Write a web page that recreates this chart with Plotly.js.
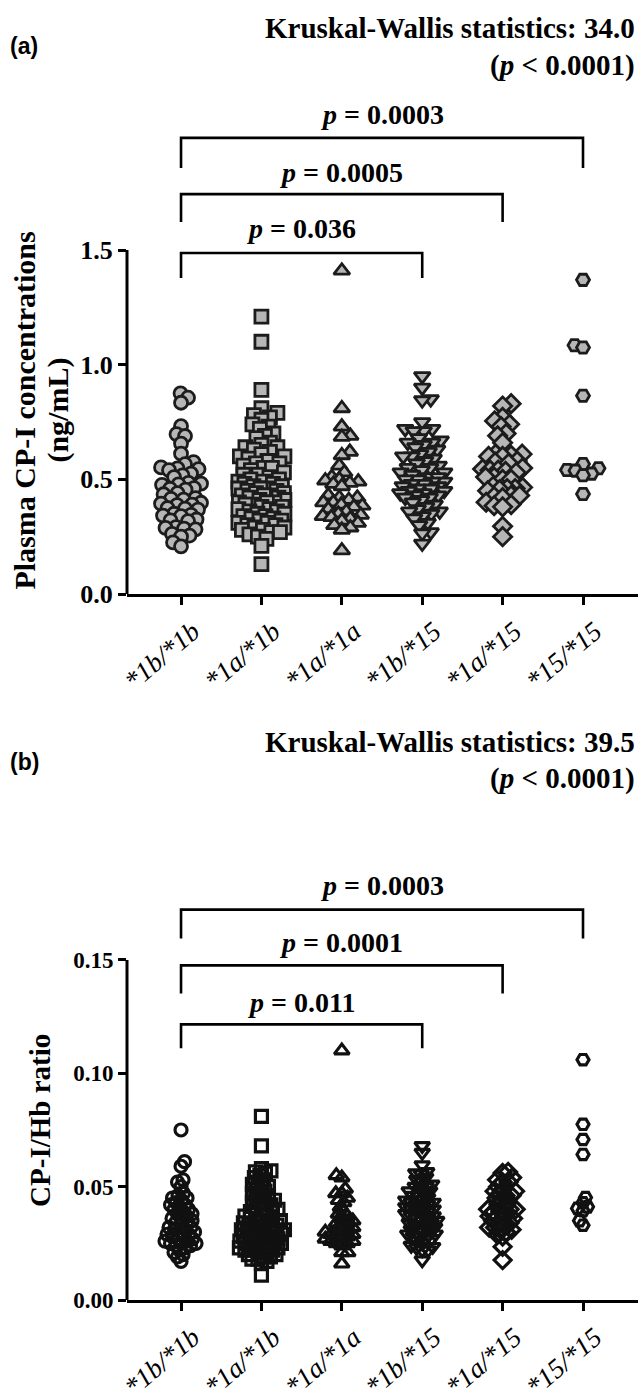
<!DOCTYPE html>
<html>
<head>
<meta charset="utf-8">
<script src="https://cdn.plot.ly/plotly-3.0.1.min.js"></script>
<style>html,body{margin:0;padding:0;background:#fff;}#chart{width:638px;height:1393px;}</style>
</head>
<body>
<div id="chart"></div>
<script>
// ---------------- data ----------------
const genotypes = ['*1b/*1b', '*1a/*1b', '*1a/*1a', '*1b/*15', '*1a/*15', '*15/*15'];

// (a) plasma CP-I concentrations (ng/mL)
const cp_1b1b = [0.875,0.856,0.834,0.732,0.697,0.689,0.656,0.612,0.575,0.566,0.552,0.548,0.545,0.540,0.525,0.517,0.510,0.485,0.481,0.478,0.476,0.462,0.459,0.455,0.440,0.435,0.418,0.415,0.412,0.398,0.394,0.390,0.388,0.375,0.372,0.368,0.350,0.345,0.342,0.340,0.325,0.321,0.318,0.292,0.288,0.285,0.282,0.262,0.255,0.250,0.225,0.208];
const cp_1a1b = [1.21,1.10,0.89,0.81,0.79,0.78,0.77,0.76,0.74,0.73,0.72,0.70,0.69,0.68,0.66,0.65,0.64,0.64,0.63,0.62,0.61,0.60,0.60,0.59,0.58,0.57,0.57,0.56,0.55,0.55,0.54,0.53,0.52,0.52,0.51,0.50,0.50,0.49,0.49,0.48,0.48,0.47,0.47,0.46,0.46,0.46,0.45,0.45,0.44,0.44,0.43,0.43,0.43,0.42,0.42,0.41,0.41,0.40,0.40,0.40,0.39,0.39,0.38,0.38,0.37,0.37,0.36,0.36,0.35,0.35,0.34,0.34,0.33,0.33,0.32,0.32,0.31,0.31,0.30,0.30,0.29,0.29,0.28,0.28,0.27,0.27,0.26,0.25,0.24,0.21,0.13];
const cp_1a1a = [1.41,0.81,0.73,0.69,0.685,0.62,0.605,0.56,0.53,0.51,0.50,0.495,0.49,0.485,0.48,0.47,0.43,0.42,0.42,0.41,0.40,0.40,0.39,0.385,0.38,0.37,0.36,0.35,0.345,0.34,0.335,0.33,0.32,0.31,0.30,0.29,0.28,0.19];
const cp_1b15 = [0.95,0.90,0.85,0.845,0.75,0.72,0.72,0.71,0.71,0.68,0.67,0.66,0.66,0.65,0.64,0.63,0.62,0.61,0.60,0.60,0.59,0.58,0.57,0.56,0.55,0.55,0.54,0.53,0.53,0.52,0.51,0.51,0.50,0.50,0.49,0.49,0.48,0.48,0.47,0.47,0.46,0.46,0.45,0.45,0.44,0.44,0.43,0.43,0.42,0.42,0.41,0.40,0.39,0.38,0.37,0.36,0.36,0.35,0.34,0.33,0.31,0.30,0.27,0.265,0.22];
const cp_1a15 = [0.83,0.82,0.77,0.755,0.74,0.73,0.70,0.69,0.66,0.61,0.61,0.605,0.60,0.60,0.58,0.575,0.57,0.55,0.545,0.54,0.54,0.535,0.53,0.51,0.51,0.50,0.50,0.47,0.465,0.46,0.46,0.455,0.45,0.43,0.43,0.425,0.42,0.40,0.39,0.385,0.38,0.295,0.25];
const cp_1515 = [1.37,1.085,1.075,0.865,0.567,0.548,0.541,0.538,0.525,0.518,0.436];

// (b) CP-I/Hb ratio
const hb_1b1b = [0.075,0.061,0.059,0.053,0.052,0.050,0.047,0.046,0.045,0.045,0.044,0.043,0.042,0.042,0.041,0.040,0.040,0.039,0.038,0.038,0.037,0.036,0.036,0.035,0.034,0.034,0.033,0.032,0.032,0.031,0.031,0.030,0.030,0.029,0.029,0.028,0.028,0.027,0.027,0.026,0.026,0.025,0.025,0.025,0.024,0.024,0.023,0.022,0.021,0.020,0.019,0.017];
const hb_1a1b = [0.081,0.068,0.058,0.057,0.0565,0.056,0.055,0.054,0.053,0.052,0.051,0.050,0.050,0.049,0.048,0.047,0.047,0.046,0.045,0.045,0.044,0.043,0.043,0.042,0.042,0.041,0.040,0.040,0.039,0.039,0.038,0.038,0.037,0.037,0.036,0.036,0.035,0.035,0.035,0.034,0.034,0.033,0.033,0.033,0.032,0.032,0.031,0.031,0.031,0.030,0.030,0.030,0.029,0.029,0.029,0.028,0.028,0.028,0.027,0.027,0.027,0.026,0.026,0.026,0.025,0.025,0.025,0.024,0.024,0.024,0.023,0.023,0.023,0.022,0.022,0.022,0.021,0.021,0.020,0.020,0.019,0.019,0.018,0.018,0.017,0.016,0.011];
const hb_1a1a = [0.110,0.055,0.054,0.049,0.047,0.047,0.045,0.044,0.043,0.041,0.039,0.038,0.037,0.036,0.035,0.034,0.034,0.033,0.032,0.031,0.031,0.030,0.030,0.029,0.029,0.028,0.028,0.027,0.027,0.026,0.026,0.025,0.025,0.024,0.021,0.021,0.016];
const hb_1b15 = [0.068,0.065,0.0595,0.0565,0.056,0.0555,0.054,0.053,0.052,0.051,0.050,0.050,0.049,0.048,0.048,0.047,0.046,0.046,0.045,0.044,0.044,0.043,0.043,0.042,0.042,0.041,0.041,0.040,0.040,0.039,0.039,0.038,0.038,0.037,0.037,0.036,0.036,0.035,0.035,0.034,0.034,0.033,0.033,0.032,0.032,0.031,0.031,0.030,0.030,0.029,0.029,0.028,0.028,0.027,0.027,0.026,0.025,0.024,0.0235,0.023,0.022,0.022,0.0176];
const hb_1a15 = [0.0565,0.056,0.054,0.053,0.052,0.052,0.050,0.049,0.048,0.048,0.047,0.046,0.046,0.045,0.044,0.043,0.042,0.041,0.040,0.040,0.040,0.039,0.039,0.038,0.037,0.037,0.036,0.036,0.035,0.034,0.034,0.033,0.032,0.032,0.031,0.031,0.030,0.029,0.028,0.0235,0.0176];
const hb_1515 = [0.106,0.0775,0.0708,0.0642,0.0452,0.0429,0.0411,0.0404,0.0394,0.035,0.033];

// pairwise comparisons (from group index, to group index, p text)
const pairsA = [[0,3,'0.036'],[0,4,'0.0005'],[0,5,'0.0003']];
const pairsB = [[0,3,'0.011'],[0,4,'0.0001'],[0,5,'0.0003']];
const kwA = ['34.0','0.0001'];
const kwB = ['39.5','0.0001'];
const yTicksA = [0, 0.5, 1.0, 1.5];
const yTicksB = [0, 0.05, 0.10, 0.15];

// ---------------- layout geometry ----------------
const W = 638, H = 1393, L = 127, PW = W - L;
const xr = [-0.672, 5.684];
const pxPerCat = PW / (xr[1] - xr[0]);
const A = {zero: 594, ppu: 229.3, top: 2.2};
const B = {zero: 1300, ppu: 2267, top: 0.195};
// bracket levels (data units): [bar, leg end, text]
const brA = [[1.487,1.378,1.596],[1.744,1.622,1.840],[1.989,1.858,2.089]];
const brB = [[0.1216,0.1110,0.1313],[0.1476,0.1352,0.1577],[0.1722,0.1595,0.1828]];

function dom(P){ return [(H-P.zero)/H, (H-(P.zero-P.top*P.ppu))/H]; }
function px2x(p){ return (p - L)/PW; }
function py2y(p){ return (H - p)/H; }

// deterministic beeswarm: nearest free slot to the centre, limited to a max half width
function swarm(vals, ppu, d, maxHalf){
  const idx = vals.map((v,i)=>i).sort((a,b)=>vals[a]-vals[b]);
  const placed = [], off = new Array(vals.length);
  let flip = 1;
  idx.forEach(i=>{
    const y = vals[i]*ppu;
    let chosen = null, best = -1, bestX = 0;
    for(let k=0;k<=maxHalf && chosen===null;k+=0.5){
      const c = k===0 ? [0] : [flip*k, -flip*k];
      for(const cx of c){
        let mn = Infinity;
        for(const p of placed){ const dd = Math.hypot(p.x-cx, p.y-y); if(dd<mn) mn = dd; }
        if(mn >= d){ chosen = cx; break; }
        if(mn > best){ best = mn; bestX = cx; }
      }
    }
    if(chosen===null) chosen = bestX;
    flip = -flip;
    placed.push({x:chosen, y:y});
    off[i] = chosen / pxPerCat;
  });
  return off;
}

const symbols = ['circle','square','triangle-up','triangle-down','diamond','hexagon2'];
const sizesA = [13,13,14,14,14,13];
const sizesB = [12,12,13,13,13,12];
const halfA = [20,23,21,22,20,18];
const halfB = [21,23,21,22,20,18];
const groupsA = [cp_1b1b, cp_1a1b, cp_1a1a, cp_1b15, cp_1a15, cp_1515];
const groupsB = [hb_1b1b, hb_1a1b, hb_1a1a, hb_1b15, hb_1a15, hb_1515];

const traces = [];
groupsA.forEach((vals,g)=>{
  const off = swarm(vals, A.ppu, 8.5, halfA[g]);
  traces.push({type:'scatter', mode:'markers', xaxis:'x', yaxis:'y',
    x: vals.map((v,i)=>g+off[i]), y: vals, hoverinfo:'y',
    marker:{symbol:symbols[g], size:sizesA[g], color:'#b6b6b6', line:{color:'#1c1c1c', width:2.8}}});
});
groupsB.forEach((vals,g)=>{
  const off = swarm(vals, B.ppu, 5.6, halfB[g]);
  traces.push({type:'scatter', mode:'markers', xaxis:'x2', yaxis:'y2',
    x: vals.map((v,i)=>g+off[i]), y: vals, hoverinfo:'y',
    marker:{symbol:symbols[g], size:sizesB[g], color:'rgba(0,0,0,0)', line:{color:'#111', width:3.2}}});
});

const serif = 'Liberation Serif, Times New Roman, serif';
function xax(anchor){
  return {anchor:anchor, domain:[0,1], range:xr, tickvals:genotypes.map((g,i)=>i), ticktext:genotypes,
    tickangle:-40, ticklabelshift:12, tickfont:{family:serif, size:27, style:'italic', color:'#000'},
    ticks:'outside', ticklen:8, tickwidth:3, tickcolor:'#000',
    showline:true, linewidth:3, linecolor:'#000', showgrid:false, zeroline:false, fixedrange:true};
}
function yax(anchor, P, tv, fmt, fs){
  return {anchor:anchor, domain:dom(P), range:[0,P.top], tickvals:tv, ticktext:tv.map(v=>v.toFixed(fmt)),
    tickfont:{family:serif, size:fs, weight:'bold', color:'#000'},
    ticks:'outside', ticklen:8, tickwidth:3, tickcolor:'#000',
    showline:false, showgrid:false, zeroline:false, fixedrange:true};
}

const shapes = [], annotations = [];
function brackets(pairs, lv, xref, yref){
  pairs.forEach((p,i)=>{
    const [a,b,t] = p, [bar,leg,ty] = lv[i];
    shapes.push({type:'path', xref:xref, yref:yref,
      path:`M ${a},${leg} L ${a},${bar} L ${b},${bar} L ${b},${leg}`,
      line:{color:'#000', width:2.6}});
    annotations.push({xref:xref, yref:yref, x:(a+b)/2, y:ty, showarrow:false, yanchor:'middle',
      text:'<i>p</i> = '+t, font:{family:serif, size:28, weight:'bold', color:'#000'}});
  });
}
brackets(pairsA, brA, 'x', 'y');
brackets(pairsB, brB, 'x2', 'y2');

// y axis lines (only up to the last tick)
shapes.push({type:'line', xref:'x domain', yref:'y', x0:0, x1:0, y0:-0.004, y1:yTicksA[yTicksA.length-1], line:{color:'#000', width:3}});
shapes.push({type:'line', xref:'x2 domain', yref:'y2', x0:0, x1:0, y0:-0.0004, y1:yTicksB[yTicksB.length-1], line:{color:'#000', width:3}});

function kw(stat, p, y1, y2){
  annotations.push({xref:'paper', yref:'paper', x:px2x(637), y:py2y(y1), xanchor:'right', yanchor:'middle', showarrow:false,
    text:'Kruskal-Wallis statistics: '+stat, font:{family:serif, size:29, weight:'bold', color:'#000'}});
  annotations.push({xref:'paper', yref:'paper', x:px2x(637), y:py2y(y2), xanchor:'right', yanchor:'middle', showarrow:false,
    text:'(<i>p</i> &lt; '+p+')', font:{family:serif, size:29, weight:'bold', color:'#000'}});
}
kw(kwA[0], kwA[1], 28, 66);
kw(kwB[0], kwB[1], 742, 779);

annotations.push({xref:'paper', yref:'paper', x:px2x(8), y:py2y(46), xanchor:'left', yanchor:'middle', showarrow:false,
  text:'(a)', font:{family:'Liberation Sans, Arial, sans-serif', size:23, weight:'bold', color:'#000'}});
annotations.push({xref:'paper', yref:'paper', x:px2x(8), y:py2y(762), xanchor:'left', yanchor:'middle', showarrow:false,
  text:'(b)', font:{family:'Liberation Sans, Arial, sans-serif', size:23, weight:'bold', color:'#000'}});

// y axis titles
annotations.push({xref:'paper', yref:'y', x:px2x(25), y:0.8, xanchor:'center', yanchor:'middle', showarrow:false, textangle:-90,
  text:'Plasma CP-I concentrations', font:{family:serif, size:30, weight:'bold', color:'#000'}});
annotations.push({xref:'paper', yref:'y', x:px2x(58), y:0.8, xanchor:'center', yanchor:'middle', showarrow:false, textangle:-90,
  text:'(ng/mL)', font:{family:serif, size:30, weight:'bold', color:'#000'}});
annotations.push({xref:'paper', yref:'y2', x:px2x(40), y:0.079, xanchor:'center', yanchor:'middle', showarrow:false, textangle:-90,
  text:'CP-I/Hb ratio', font:{family:serif, size:29, weight:'bold', color:'#000'}});

const layout = {
  width:W, height:H, margin:{l:L, r:0, t:0, b:0}, paper_bgcolor:'#fff', plot_bgcolor:'#fff',
  showlegend:false,
  xaxis: xax('y'), yaxis: yax('x', A, yTicksA, 1, 26),
  xaxis2: xax('y2'), yaxis2: yax('x2', B, yTicksB, 2, 23),
  shapes: shapes, annotations: annotations
};
Plotly.newPlot('chart', traces, layout, {staticPlot:true, displayModeBar:false});
</script>
</body>
</html>
